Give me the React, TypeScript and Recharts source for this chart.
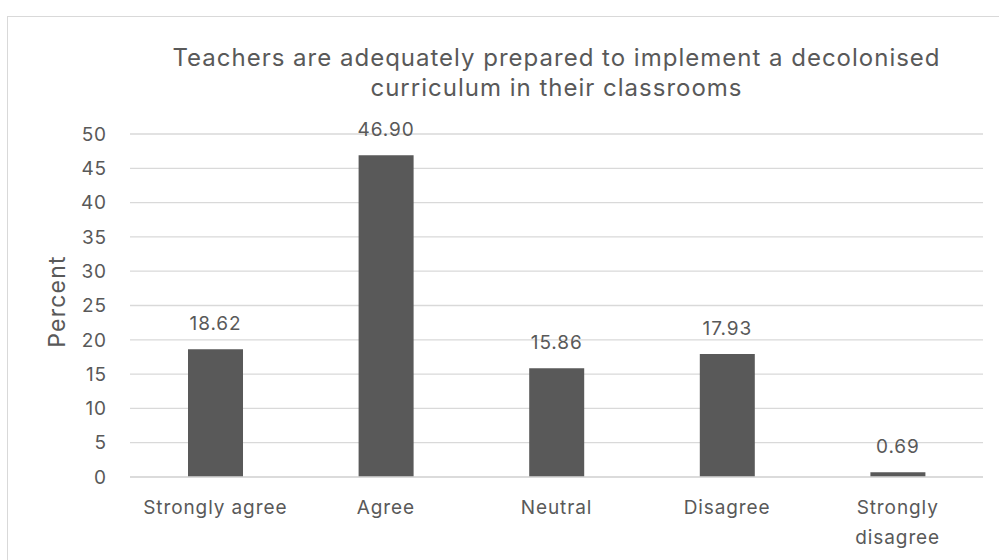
import { Bar, BarChart, CartesianGrid, LabelList, XAxis, YAxis } from 'recharts';

const categories = ['Strongly agree', 'Agree', 'Neutral', 'Disagree', 'Strongly disagree'];
const tickLines = [['Strongly agree'], ['Agree'], ['Neutral'], ['Disagree'], ['Strongly', 'disagree']];
const percents = [18.62, 46.9, 15.86, 17.93, 0.69];
const yTicks = [0, 5, 10, 15, 20, 25, 30, 35, 40, 45, 50];
const titleLines = ['Teachers are adequately prepared to implement a decolonised', 'curriculum in their classrooms'];

const data = categories.map((name, i) => ({ name, value: percents[i] }));

const FONT = 'Inter, "Open Sans", sans-serif';
const TEXT = '#595959';

const CategoryTick = (props: any) => {
  const { x, y, index } = props;
  const lines = tickLines[index] ?? [props.payload.value];
  return (
    <text x={x} y={y} textAnchor='middle' fill={TEXT} fontSize={19} letterSpacing={0.9} fontFamily={FONT}>
      {lines.map((l, i) => (
        <tspan key={l} x={x} dy={i === 0 ? 29 : 30}>
          {l}
        </tspan>
      ))}
    </text>
  );
};

const App = () => (
  <div style={{ position: 'absolute', left: 0, top: 0, width: 999, height: 560, background: '#fff', fontFamily: FONT }}>
    <div style={{ position: 'absolute', left: 7, top: 16, width: 1000, height: 600, border: '1px solid #d9d9d9' }} />
    <div
      style={{
        position: 'absolute',
        left: 100,
        width: 913,
        top: 43,
        textAlign: 'center',
        color: TEXT,
        fontSize: 24,
        letterSpacing: 1,
        lineHeight: '30px',
      }}
    >
      {titleLines.map(t => (
        <div key={t}>{t}</div>
      ))}
    </div>
    <div style={{ position: 'absolute', left: 0, top: 0 }}>
      <BarChart width={999} height={560} data={data} margin={{ top: 134, right: 16, left: 0, bottom: 0 }} barCategoryGap='34%'>
        <CartesianGrid vertical={false} stroke='#d9d9d9' strokeWidth={1.3} />
        <XAxis
          dataKey='name'
          height={83}
          tickLine={false}
          axisLine={{ stroke: '#d9d9d9', strokeWidth: 1.3 }}
          interval={0}
          tick={<CategoryTick />}
        />
        <YAxis
          width={130}
          domain={[0, 50]}
          ticks={yTicks}
          tickLine={false}
          axisLine={false}
          tickSize={0}
          tickMargin={23}
          tick={{ fill: TEXT, fontSize: 19, fontFamily: FONT, letterSpacing: 0.9 }}
          label={{
            value: 'Percent',
            angle: -90,
            position: 'insideLeft',
            offset: 57,
            dy: -4,
            fill: TEXT,
            fontSize: 23,
            fontFamily: FONT,
            style: { textAnchor: 'middle', letterSpacing: 1.2 },
          }}
        />
        <Bar dataKey='value' fill='#595959' isAnimationActive={false}>
          <LabelList
            dataKey='value'
            position='top'
            offset={19}
            fill={TEXT}
            fontSize={19}
            fontFamily={FONT}
            style={{ letterSpacing: 0.9 }}
            formatter={(v: number) => v.toFixed(2)}
          />
        </Bar>
      </BarChart>
    </div>
  </div>
);

export default App;
